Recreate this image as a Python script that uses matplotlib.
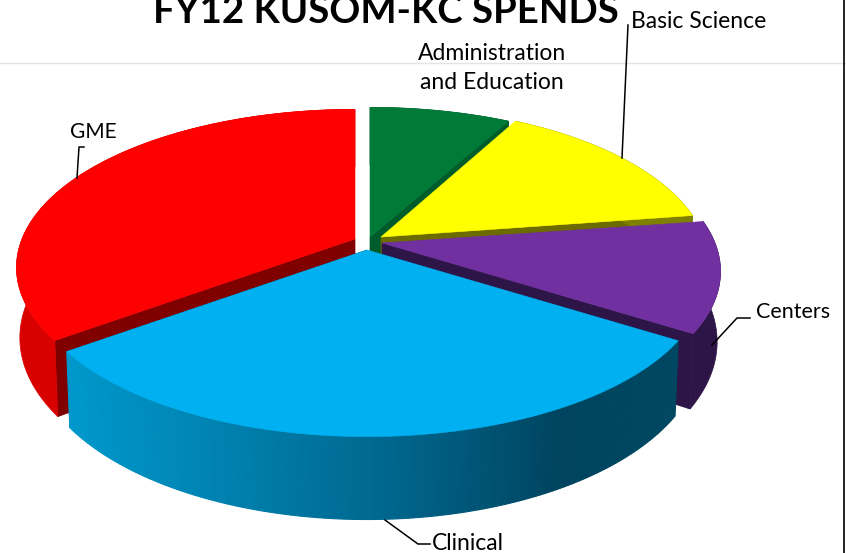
import matplotlib
matplotlib.use("Agg")
import matplotlib.pyplot as plt
import numpy as np
from matplotlib.patches import Polygon

plt.rcParams['font.family'] = ['Lato', 'DejaVu Sans']

# shares, in percent, clockwise from 12 o'clock
categories = ["Administration\nand Education", "Basic Science", "Centers", "Clinical", "GME"]
shares = [8.0, 14.7, 11.3, 30.9, 35.1]

top_colors = ["#007a37", "#ffff00", "#7030a0", "#00b0f0", "#ff0000"]
outer_colors = ["#005c2a", "#7f7f00", "#2d1548", None, "#d90000"]
inner_colors = ["#005c2a", "#6b6b00", "#2d1548", "#00455f", "#800000"]

# where each exploded slice has its tip, in pixels
tips_x = [370, 381, 382, 367, 355]
tips_y = [237, 237, 243, 250, 239]
# yellow slice comes out a little short in the reference
radius_x = [1.0, 0.97, 1.0, 1.0, 1.0]

# pie projection
RX = 333
RY = 153
PERSP = 0.18
DEPTH = 68
BOTTOM_X = 0.99

# clinical wall shading, left to right
grad_x = [70, 250, 400, 560, 680]
grad_r = [0, 0, 0, 0, 0]
grad_g = [152, 125, 100, 68, 72]
grad_b = [204, 170, 138, 95, 98]


def rim(theta, tip_x, tip_y, scale=1.0, bottom=False):
    s = np.sin(theta)
    c = np.cos(theta)
    div = 1 + PERSP * c
    x = RX * scale * s / div
    y = -RY * c / div
    if bottom:
        return tip_x + x * BOTTOM_X, tip_y + y + DEPTH / div
    return tip_x + x, tip_y + y


fig = plt.figure(figsize=(8.46, 5.53), dpi=100)
ax = fig.add_axes([0, 0, 1, 1])
ax.set_xlim(0, 846)
ax.set_ylim(553, 0)
ax.axis('off')

ax.plot([0, 846], [63, 63], color="#e4e4e4", lw=1, zorder=0)
ax.plot([843.5, 843.5], [0, 553], color="black", lw=1.2, zorder=0)

edges = np.radians(np.concatenate([[0], np.cumsum(shares)]) * 360 / sum(shares))

# draw order: back slices first, clinical last
for i in [0, 1, 4, 2, 3]:
    th = np.linspace(edges[i], edges[i + 1], 160)
    tx, ty = tips_x[i], tips_y[i]
    x1, y1 = rim(th, tx, ty, radius_x[i])
    x2, y2 = rim(th, tx, ty, radius_x[i], bottom=True)

    # flat side of the slice, tip to rim
    edge_i = -1 if i != 4 else 0
    side = [(tx, ty), (x1[edge_i], y1[edge_i]), (x2[edge_i], y2[edge_i]), (tx, ty + DEPTH)]
    ax.add_patch(Polygon(side, closed=True, fc=inner_colors[i], ec=inner_colors[i], lw=0.5))

    if outer_colors[i] is not None:
        wall = list(zip(x1, y1)) + list(zip(x2[::-1], y2[::-1]))
        ax.add_patch(Polygon(wall, closed=True, fc=outer_colors[i], ec=outer_colors[i], lw=0.5))
    else:
        for j in range(len(th) - 1):
            mid = (x1[j] + x1[j + 1]) / 2
            col = (np.interp(mid, grad_x, grad_r) / 255,
                   np.interp(mid, grad_x, grad_g) / 255,
                   np.interp(mid, grad_x, grad_b) / 255)
            strip = [(x1[j], y1[j]), (x1[j + 1], y1[j + 1]), (x2[j + 1], y2[j + 1]), (x2[j], y2[j])]
            ax.add_patch(Polygon(strip, closed=True, fc=col, ec=col, lw=0.8))

    top = [(tx, ty)] + list(zip(x1, y1))
    ax.add_patch(Polygon(top, closed=True, fc=top_colors[i], ec=top_colors[i], lw=0.4))

# leader lines
ax.plot([622, 628], [158, 25], color="black", lw=1.1)
ax.plot([712, 737, 750], [345, 318, 318], color="black", lw=1.1)
ax.plot([77, 79, 84], [178, 147, 147], color="black", lw=1.1)
ax.plot([385, 418, 430], [520, 544, 544], color="black", lw=1.1)

ax.text(385.5, 23, "FY12 KUSOM-KC SPENDS", fontsize=27.6, fontweight='bold', ha='center',
        va='baseline', color="black")

label_x = [492, 699, 793, 468, 93]
label_y = [68, 21, 312, 544, 132]
label_size = [16.5, 16.5, 15.5, 16.5, 15]
for name, lx, ly, size in zip(categories, label_x, label_y, label_size):
    ax.text(lx, ly, name, fontsize=size, ha='center', va='center', color="black", linespacing=1.45)

fig.savefig("out.png", dpi=100)
